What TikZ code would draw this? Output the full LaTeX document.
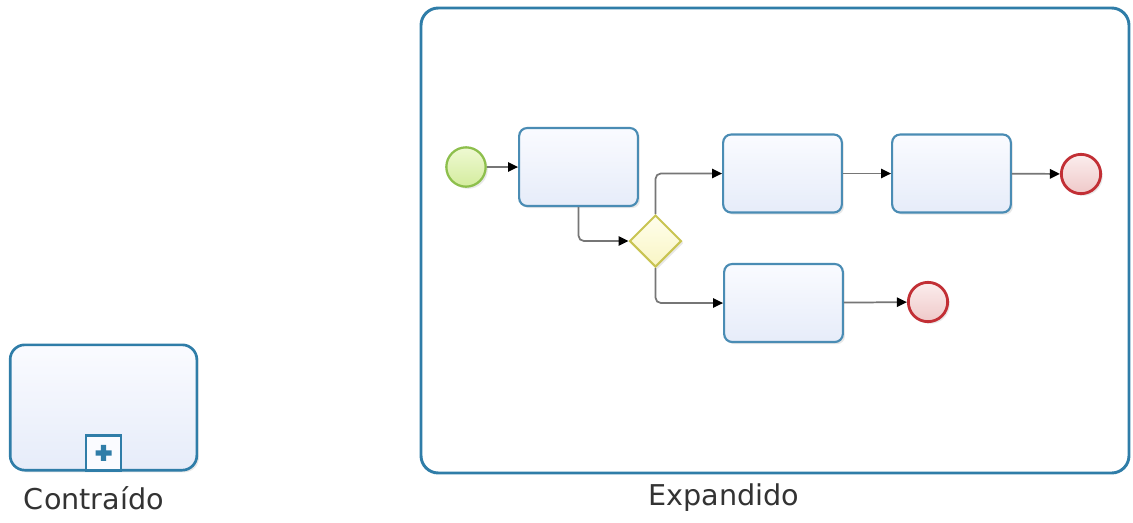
\documentclass[tikz,border=0pt]{standalone}
\usepackage{fontspec}
\setmainfont{DejaVu Sans}
\usetikzlibrary{arrows.meta,shapes.geometric,shadows}
\definecolor{tinta}{HTML}{333333}
\definecolor{borda}{HTML}{2F7DA8}
\definecolor{bordatarefa}{HTML}{4A8CB4}
\definecolor{tarefaa}{HTML}{FAFBFF}
\definecolor{tarefab}{HTML}{E6ECF9}
\definecolor{verde}{HTML}{8DBF4C}
\definecolor{verdea}{HTML}{EEF9D2}
\definecolor{verdeb}{HTML}{D4EC9E}
\definecolor{vermelho}{HTML}{C22F35}
\definecolor{vermelhoa}{HTML}{FBEDED}
\definecolor{vermelhob}{HTML}{EFC9C9}
\definecolor{amarelo}{HTML}{C9C452}
\definecolor{amareloa}{HTML}{FFFEEC}
\definecolor{amarelob}{HTML}{F9F5C4}
\definecolor{linha}{HTML}{767676}
\newcommand\rotulo{\fontsize{21.5}{25}\selectfont}

\begin{document}
\begin{tikzpicture}[x=0.75pt,y=-0.75pt]
\useasboundingbox (0,0) rectangle (1133,522);
\tikzset{sombra/.style={drop shadow={shadow xshift=1.6pt,shadow yshift=-1.6pt,opacity=0.18}},
  tarefa/.style={rectangle,rounded corners=6pt,draw=bordatarefa,line width=1.6pt,
    top color=tarefaa,bottom color=tarefab,minimum width=89pt,minimum height=58.5pt,sombra},
  inicio/.style={circle,draw=verde,line width=1.7pt,top color=verdea,bottom color=verdeb,
    minimum size=29.5pt,inner sep=0,sombra},
  fim/.style={circle,draw=vermelho,line width=2.1pt,top color=vermelhoa,bottom color=vermelhob,
    minimum size=29.5pt,inner sep=0,sombra},
  porta/.style={diamond,aspect=1,draw=amarelo,line width=1.5pt,top color=amareloa,
    bottom color=amarelob,minimum size=39pt,inner sep=0,sombra},
  fluxo/.style={linha,line width=1.3pt,rounded corners=4pt,
    -{Triangle[length=7.5pt,width=7pt,fill=black,color=black]}},
  legenda/.style={inner sep=0,font=\rotulo,text=tinta}}

% ---- Subprocesso contraído -----------------------------------------------------
\node[rectangle,rounded corners=11pt,draw=borda,line width=2pt,top color=tarefaa,
  bottom color=tarefab,minimum width=140pt,minimum height=94pt,sombra] (contraido)
  at (103.5,407.5) {};
\node[rectangle,draw=borda,line width=1.8pt,fill=tarefaa,minimum size=26pt,inner sep=0,
  anchor=south] (marcador) at (contraido.south) {};
\fill[borda] ([shift={(-8,-2.6)}]marcador.center) rectangle ([shift={(8,2.6)}]marcador.center)
  ([shift={(-2.6,-8)}]marcador.center) rectangle ([shift={(2.6,8)}]marcador.center);
\node[legenda] (lcontraido) at (94,498) {Contraído};

% ---- Subprocesso expandido -----------------------------------------------------
\node[rectangle,rounded corners=13pt,draw=borda,line width=2.2pt,fill=white,
  minimum width=531pt,minimum height=348.75pt] (expandido) at (775,240.5) {};
\node[legenda] (lexpandido) at (724,498) {Expandido};

\node[inicio] (ini) at (466,167) {};
\node[tarefa] (t1) at (578.5,167) {};
\node[porta] (gw) at (655.5,241) {};
\node[tarefa] (t2) at (782.5,173.5) {};
\node[tarefa] (t3) at (951.5,173.5) {};
\node[fim] (fim1) at (1081,174) {};
\node[tarefa] (t4) at (783.5,303) {};
\node[fim] (fim2) at (928,302) {};

\draw[fluxo] (ini) -- (t1);
\draw[fluxo] (t1.south) |- (gw.west);
\draw[fluxo] (gw.north) |- (t2.west);
\draw[fluxo] (gw.south) |- (t4.west);
\draw[fluxo] (t2) -- (t3);
\draw[fluxo] (t3) -- (fim1);
\draw[fluxo] (t4) -- (fim2);
\end{tikzpicture}
\end{document}
